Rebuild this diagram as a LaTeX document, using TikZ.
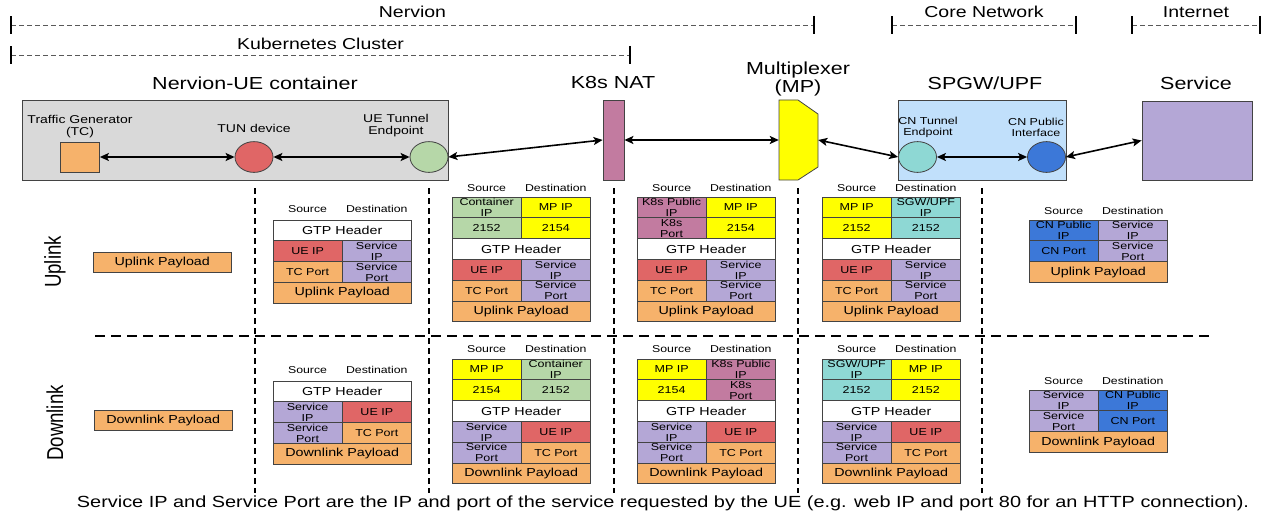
\documentclass[tikz,border=0pt]{standalone}
\usepackage{fontspec}
\setmainfont{Liberation Sans}
\usetikzlibrary{arrows.meta}

\definecolor{boxgray}{HTML}{D9D9D9}
\definecolor{tcorange}{HTML}{F6B26B}
\definecolor{uered}{HTML}{E06666}
\definecolor{ctrgreen}{HTML}{B6D7A8}
\definecolor{natpink}{HTML}{C27BA0}
\definecolor{mpyellow}{HTML}{FFFF00}
\definecolor{cncyan}{HTML}{8ED8D4}
\definecolor{cnblue}{HTML}{3C78D8}
\definecolor{cnbox}{HTML}{C1E0FB}
\definecolor{svcpurple}{HTML}{B4A7D6}
\definecolor{edge}{HTML}{434343}

\begin{document}
\begin{tikzpicture}[x=1pt, y=-1.2346pt, yscale=0.81, every node/.style={transform shape}]

\tikzset{%
    span/.style={gray!70!black, line width=0.8pt, dash pattern=on 5pt off 3pt,
        {Bar[width=18pt,line width=1.6pt,color=black]}-{Bar[width=18pt,line width=1.6pt,color=black]}},
    spanlbl/.style={font=\fontsize{19.5}{23}\selectfont},
    title/.style={font=\fontsize{21.5}{23}\selectfont, align=center},
    devlbl/.style={font=\fontsize{14}{14.8}\selectfont, align=center},
    cnlbl/.style={font=\fontsize{12.5}{13.6}\selectfont, align=center},
    device/.style={draw=edge, line width=0.8pt, inner sep=0pt},
    port/.style={device, circle, minimum size=38pt},
    link/.style={{Stealth[length=9pt,width=8pt,inset=2pt]}-{Stealth[length=9pt,width=8pt,inset=2pt]}, line width=1.6pt},
    divider/.style={line width=2.8pt, dash pattern=on 6pt off 4pt},
    cell/.style={draw=edge, line width=0.8pt, inner sep=0pt, outer sep=0pt, align=center, anchor=north west, minimum height=25.7pt},
    half/.style={cell, minimum width=69.2pt, font=\fontsize{12.5}{13.6}\selectfont},
    full/.style={cell, minimum width=138.4pt, font=\fontsize{14.3}{15}\selectfont},
    colhead/.style={font=\fontsize{12.3}{14}\selectfont},
    flow/.style={rotate=90, font=\fontsize{23}{26}\selectfont},
}

%\pairrow{name}{north west corner}{left fill}{left text}{right fill}{right text}
\newcommand*{\pairrow}[6]{%
	\node [half, fill=#3] (#1l) at (#2) {#4};
	\node [half, fill=#5] (#1r) at (#1l.north east) {#6};
}
%\fullrow{name}{north west corner}{fill}{text}
\newcommand*{\fullrow}[4]{%
	\node [full, fill=#3] (#1) at (#2) {#4};
}
%\colheads{name}{table left}{label y}
\newcommand*{\colheads}[3]{%
	\node [colhead] (#1src) at (#2+34.6, #3) {Source};
	\node [colhead] (#1dst) at (#2+103.8, #3) {Destination};
}
%\tunnel{name}{left}{top}{src fill}{src ip}{src port}{dst fill}{dst ip}{dst port}
\newcommand*{\tunnel}[9]{%
	\pairrow{#1a}{#2,#3}{#4}{#5}{#7}{#8}
	\pairrow{#1b}{#1al.south west}{#4}{#6}{#7}{#9}
}
%\innerup{name}{north west corner}
\newcommand*{\innerup}[2]{%
	\fullrow{#1g}{#2}{white}{GTP Header}
	\pairrow{#1i}{#1g.south west}{uered}{UE IP}{svcpurple}{Service\\IP}
	\pairrow{#1p}{#1il.south west}{tcorange}{TC Port}{svcpurple}{Service\\Port}
	\fullrow{#1d}{#1pl.south west}{tcorange}{Uplink Payload}
}
%\innerdown{name}{north west corner}
\newcommand*{\innerdown}[2]{%
	\fullrow{#1g}{#2}{white}{GTP Header}
	\pairrow{#1i}{#1g.south west}{svcpurple}{Service\\IP}{uered}{UE IP}
	\pairrow{#1p}{#1il.south west}{svcpurple}{Service\\Port}{tcorange}{TC Port}
	\fullrow{#1d}{#1pl.south west}{tcorange}{Downlink Payload}
}

\useasboundingbox (0,0) rectangle (1271,519);

% domains
\coordinate (nerv-a) at (10,25);
\coordinate (nerv-b) at (815,25);
\draw [span] (nerv-a) -- (nerv-b);
\node [spanlbl] (nerv) at (412.5,12) {Nervion};

\coordinate (kube-a) at (10,55);
\coordinate (kube-b) at (631,55);
\draw [span] (kube-a) -- (kube-b);
\node [spanlbl] (kube) at (320.5,44) {Kubernetes Cluster};

\coordinate (core-a) at (891,25);
\coordinate (core-b) at (1077,25);
\draw [span] (core-a) -- (core-b);
\node [spanlbl] (core) at (984,12) {Core Network};

\coordinate (inet-a) at (1131,25);
\coordinate (inet-b) at (1261,25);
\draw [span] (inet-a) -- (inet-b);
\node [spanlbl] (inet) at (1196,12) {Internet};

% UE container
\node [device, fill=boxgray, minimum width=426pt, minimum height=98.8pt] (uectr) at (235,140) {};
\node [title] (uectr-t) at (255,83) {Nervion-UE container};
\node [device, fill=tcorange, minimum width=39pt, minimum height=37pt] (tc) at (80,157) {};
\node [devlbl] (tc-l) at (80,127) {Traffic Generator\\(TC)};
\node [port, fill=uered] (tun) at (254,157) {};
\node [devlbl] (tun-l) at (254,128) {TUN device};
\node [port, fill=ctrgreen] (uete) at (429,157) {};
\node [devlbl] (uete-l) at (396,126) {UE Tunnel\\Endpoint};

% NAT, multiplexer
\node [device, fill=natpink, minimum width=21pt, minimum height=98.8pt] (nat) at (613.5,140) {};
\node [title] (nat-t) at (613,83) {K8s NAT};

\node [inner sep=0pt, minimum width=39pt, minimum height=98.8pt] (mp) at (798.5,140) {};
\draw [device, fill=mpyellow] (779,100) -- (798,100) -- (818,114) -- (818,167) -- (798,180) -- (779,180) -- cycle;
\node [title] (mp-t) at (798,79) {Multiplexer\\(MP)};

% core network, service
\node [device, fill=cnbox, minimum width=168pt, minimum height=98.8pt] (spgw) at (982,140) {};
\node [title] (spgw-t) at (985,83) {SPGW/UPF};
\node [port, fill=cncyan] (cnte) at (917.5,157) {};
\node [cnlbl] (cnte-l) at (928,127) {CN Tunnel\\Endpoint};
\node [port, fill=cnblue] (cnpi) at (1046.5,157) {};
\node [cnlbl] (cnpi-l) at (1036,127) {CN Public\\Interface};

\node [device, fill=svcpurple, minimum width=110pt, minimum height=97.5pt] (svc) at (1197,140.5) {};
\node [title] (svc-t) at (1196,83) {Service};

% links
\draw [link] (tc) -- (tun);
\draw [link] (tun) -- (uete);
\draw [link] (uete.east) -- (nat.west);
\draw [link] (nat) -- (mp);
\draw [link] (mp.east) -- (cnte.west);
\draw [link] (cnte) -- (cnpi);
\draw [link] (cnpi.east) -- (svc.west);

% dividers
\draw [divider] (255,188) -- (255,493);
\draw [divider] (429,188) -- (429,493);
\draw [divider] (614,188) -- (614,493);
\draw [divider] (798,188) -- (798,493);
\draw [divider] (982,188) -- (982,493);
\draw [divider, dash pattern=on 10pt off 6pt] (95,336) -- (1210,336);

\node [flow] (upl) at (55,262) {Uplink};
\node [flow] (dnl) at (55,423) {Downlink};

% uplink packets
\node [full, fill=tcorange] (uppay) at (93,252) {Uplink Payload};

\colheads{t1u}{273}{209}
\innerup{t1u}{273,220}

\colheads{t2u}{452}{188}
\tunnel{t2u}{452}{197}{ctrgreen}{Container\\IP}{2152}{mpyellow}{MP IP}{2154}
\innerup{t2u}{t2ubl.south west}

\colheads{t3u}{637}{188}
\tunnel{t3u}{637}{197}{natpink}{K8s Public\\IP}{K8s\\Port}{mpyellow}{MP IP}{2154}
\innerup{t3u}{t3ubl.south west}

\colheads{t4u}{822}{188}
\tunnel{t4u}{822}{197}{mpyellow}{MP IP}{2152}{cncyan}{SGW/UPF\\IP}{2152}
\innerup{t4u}{t4ubl.south west}

\colheads{t5u}{1029}{211}
\pairrow{t5ua}{1029,220}{cnblue}{CN Public\\IP}{svcpurple}{Service\\IP}
\pairrow{t5ub}{t5ual.south west}{cnblue}{CN Port}{svcpurple}{Service\\Port}
\fullrow{t5ud}{t5ubl.south west}{tcorange}{Uplink Payload}

% downlink packets
\node [full, fill=tcorange] (dnpay) at (94,410) {Downlink Payload};

\colheads{t1d}{273}{370}
\innerdown{t1d}{273,381}

\colheads{t2d}{452}{349}
\tunnel{t2d}{452}{359}{mpyellow}{MP IP}{2154}{ctrgreen}{Container\\IP}{2152}
\innerdown{t2d}{t2dbl.south west}

\colheads{t3d}{637}{349}
\tunnel{t3d}{637}{359}{mpyellow}{MP IP}{2154}{natpink}{K8s Public\\IP}{K8s\\Port}
\innerdown{t3d}{t3dbl.south west}

\colheads{t4d}{822}{349}
\tunnel{t4d}{822}{359}{cncyan}{SGW/UPF\\IP}{2152}{mpyellow}{MP IP}{2152}
\innerdown{t4d}{t4dbl.south west}

\colheads{t5d}{1029}{381}
\pairrow{t5da}{1029,390}{svcpurple}{Service\\IP}{cnblue}{CN Public\\IP}
\pairrow{t5db}{t5dal.south west}{svcpurple}{Service\\Port}{cnblue}{CN Port}
\fullrow{t5dd}{t5dbl.south west}{tcorange}{Downlink Payload}

\node [spanlbl, font=\fontsize{19.9}{23}\selectfont] (note) at (663,503) {Service IP and Service Port are the IP and port of the service requested by the UE (e.g. web IP and port 80 for an HTTP connection).};

\end{tikzpicture}
\end{document}
